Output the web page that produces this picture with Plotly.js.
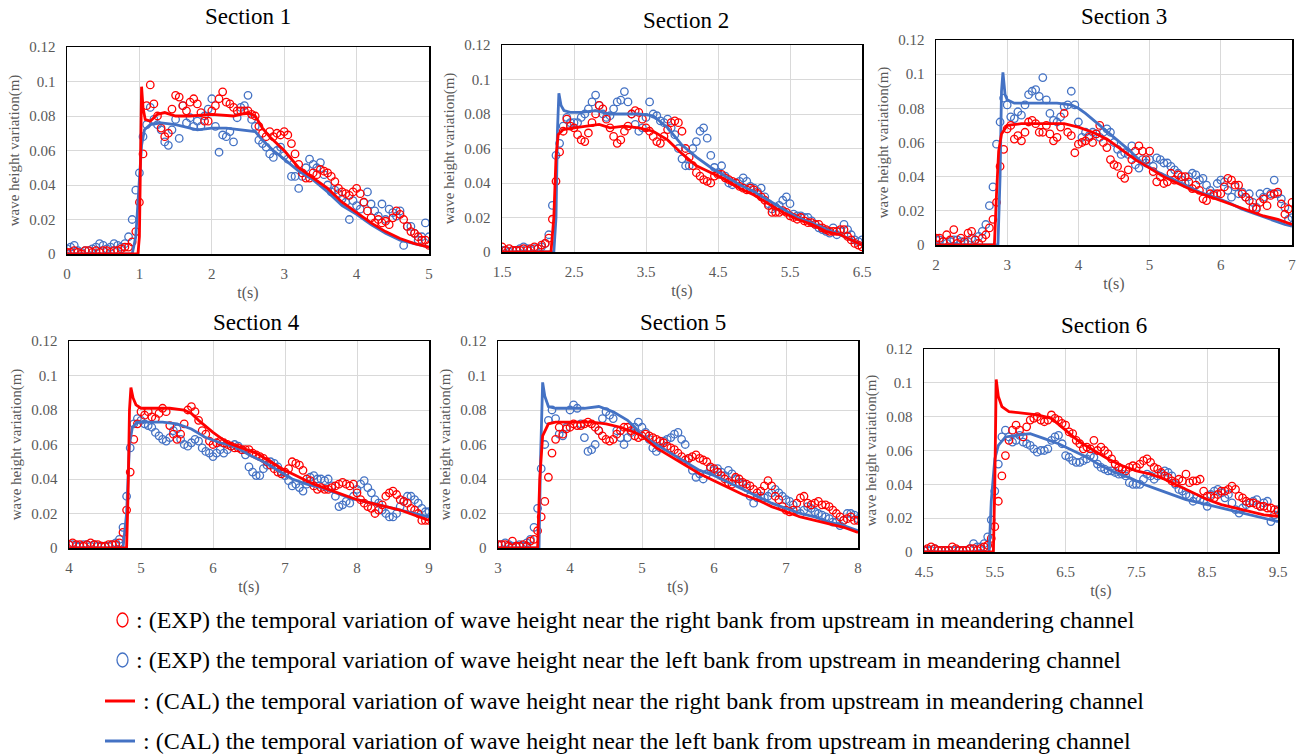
<!DOCTYPE html>
<html><head><meta charset="utf-8">
<script src="https://cdn.plot.ly/plotly-3.0.1.min.js"></script>
<style>html,body{margin:0;padding:0;background:#fff}#chart{width:1311px;height:755px}</style>
</head><body><div id="chart"></div>
<script>
// ---- Data (wave height variation in m, EXP sampled every 0.05 s from section start) ----
const sectionNames = ["Section 1","Section 2","Section 3","Section 4","Section 5","Section 6"];
const sectionStart = [0, 1.5, 2, 4, 3, 4.5];
const expStep = 0.05;

const s1ExpRight = [0.001,0.001,0.002,0.001,0.000,0.002,0.002,0.001,0.002,0.001,0.002,0.002,0.001,0.002,0.002,0.003,
0.004,0.004,0.007,0.013,0.030,0.058,0.086,0.098,0.087,0.080,0.073,0.068,0.070,0.084,
0.092,0.091,0.086,0.083,0.088,0.090,0.087,0.082,0.077,0.077,
0.083,0.086,0.090,0.094,0.088,0.087,0.085,0.083,0.083,0.083,
0.083,0.081,0.080,0.074,0.070,0.068,0.071,0.068,0.070,0.069,
0.071,0.069,0.064,0.058,0.052,0.047,0.044,0.044,0.047,0.046,
0.049,0.048,0.047,0.045,0.042,0.038,0.036,0.035,0.034,0.036,
0.038,0.035,0.030,0.025,0.021,0.018,0.020,0.018,0.019,0.017,
0.021,0.025,0.023,0.020,0.016,0.013,0.012,0.010,0.008,0.008,0.005];
const s1ExpLeft = [0.003,0.004,0.005,0.002,0.001,0.002,0.002,0.003,0.004,0.006,
0.005,0.003,0.004,0.006,0.005,0.004,0.006,0.010,0.020,0.037,
0.047,0.068,0.075,0.085,0.078,0.075,0.072,0.065,0.063,0.072,
0.078,0.067,0.086,0.076,0.079,0.074,0.077,0.074,0.080,0.084,
0.090,0.074,0.059,0.069,0.068,0.071,0.065,0.079,0.085,0.086,
0.092,0.078,0.074,0.066,0.064,0.062,0.058,0.056,0.060,0.062,
0.057,0.055,0.045,0.045,0.038,0.045,0.050,0.055,0.052,0.050,
0.053,0.046,0.040,0.036,0.037,0.035,0.032,0.030,0.020,0.031,
0.028,0.026,0.030,0.036,0.029,0.025,0.022,0.029,0.020,0.026,
0.024,0.022,0.025,0.005,0.016,0.016,0.012,0.008,0.010,0.018,0.010];
const s1CalRightT = [0,0.98,1.0,1.02,1.03,1.05,1.08,1.15,1.25,1.35,1.5,1.7,2.0,2.3,2.5,2.6,2.7,2.8,3.0,3.2,3.4,3.6,3.8,4.0,4.2,4.4,4.6,4.8,5.0];
const s1CalRightV = [0,0,0.01,0.06,0.097,0.085,0.078,0.077,0.081,0.082,0.080,0.080,0.081,0.080,0.082,0.080,0.073,0.068,0.060,0.050,0.044,0.038,0.030,0.024,0.018,0.013,0.009,0.006,0.004];
const s1CalLeftT = [0,0.9,0.95,1.0,1.03,1.07,1.15,1.3,1.5,1.8,2.0,2.2,2.4,2.6,2.7,2.85,3.0,3.2,3.4,3.6,3.8,4.0,4.2,4.4,4.6,4.8,5.0];
const s1CalLeftV = [0,0,0.01,0.04,0.063,0.072,0.075,0.076,0.075,0.072,0.073,0.073,0.072,0.071,0.066,0.060,0.055,0.048,0.043,0.036,0.028,0.023,0.017,0.012,0.008,0.006,0.004];

const s2ExpRight = [0.003,0.001,0.002,0.001,0.001,0.001,0.002,0.001,0.002,0.003,
0.002,0.004,0.005,0.008,0.019,0.041,0.058,0.070,0.077,0.073,
0.072,0.068,0.065,0.064,0.069,0.075,0.080,0.085,0.083,0.077,
0.072,0.067,0.063,0.065,0.070,0.073,0.080,0.082,0.081,0.077,
0.072,0.070,0.067,0.064,0.063,0.067,0.071,0.075,0.076,0.075,
0.070,0.060,0.055,0.050,0.046,0.044,0.042,0.041,0.040,0.044,
0.045,0.045,0.043,0.042,0.041,0.040,0.038,0.037,0.036,0.037,
0.036,0.034,0.032,0.030,0.027,0.023,0.023,0.023,0.024,0.023,
0.021,0.020,0.019,0.020,0.018,0.017,0.017,0.016,0.016,0.014,
0.013,0.012,0.012,0.012,0.013,0.013,0.009,0.007,0.005,0.004,0.003];
const s2ExpLeft = [0.001,0.001,0.000,0.001,0.001,0.002,0.003,0.002,0.001,0.002,
0.002,0.003,0.005,0.010,0.027,0.056,0.063,0.073,0.078,0.075,
0.075,0.075,0.078,0.080,0.083,0.087,0.091,0.085,0.080,0.078,
0.079,0.083,0.087,0.088,0.093,0.087,0.080,0.074,0.070,0.072,
0.078,0.087,0.080,0.079,0.076,0.075,0.077,0.072,0.068,0.060,
0.054,0.050,0.050,0.060,0.064,0.070,0.072,0.066,0.056,0.049,
0.046,0.050,0.044,0.040,0.039,0.040,0.041,0.043,0.041,0.038,
0.037,0.035,0.037,0.032,0.028,0.025,0.026,0.027,0.030,0.032,
0.028,0.022,0.021,0.021,0.020,0.020,0.018,0.016,0.014,0.013,
0.012,0.011,0.014,0.010,0.012,0.016,0.013,0.010,0.007,0.006,0.007];
const s2CalRightT = [1.5,2.18,2.22,2.25,2.28,2.35,2.5,2.7,2.85,3.0,3.2,3.4,3.6,3.8,4.0,4.2,4.4,4.6,4.8,5.0,5.2,5.4,5.6,5.8,6.0,6.2,6.4,6.5];
const s2CalRightV = [0,0,0.02,0.055,0.068,0.071,0.072,0.073,0.074,0.072,0.073,0.072,0.070,0.065,0.057,0.050,0.046,0.042,0.037,0.033,0.028,0.023,0.019,0.016,0.012,0.010,0.006,0.004];
const s2CalLeftT = [1.5,2.22,2.25,2.27,2.29,2.32,2.36,2.45,2.6,2.8,3.0,3.2,3.4,3.6,3.8,4.0,4.2,4.4,4.6,4.8,5.0,5.2,5.4,5.6,5.8,6.0,6.2,6.4,6.5];
const s2CalLeftV = [0,0,0.02,0.07,0.092,0.085,0.082,0.081,0.081,0.082,0.080,0.080,0.080,0.079,0.072,0.062,0.055,0.049,0.044,0.039,0.035,0.030,0.025,0.020,0.017,0.013,0.010,0.006,0.004];

const s3ExpRight = [0.004,0.004,0.002,0.006,0.003,0.009,0.001,0.004,0.002,0.007,
0.008,0.003,0.001,0.004,0.006,0.010,0.015,0.025,0.046,0.056,
0.068,0.070,0.062,0.064,0.061,0.066,0.072,0.073,0.071,0.066,
0.066,0.070,0.065,0.061,0.063,0.069,0.077,0.066,0.064,0.054,
0.059,0.060,0.061,0.063,0.060,0.065,0.070,0.060,0.057,0.050,
0.047,0.046,0.041,0.039,0.044,0.050,0.055,0.058,0.055,0.050,
0.055,0.043,0.037,0.040,0.036,0.037,0.042,0.038,0.041,0.040,
0.040,0.037,0.033,0.035,0.032,0.027,0.026,0.030,0.029,0.030,
0.030,0.034,0.039,0.038,0.035,0.035,0.030,0.028,0.026,0.022,
0.021,0.025,0.027,0.023,0.029,0.030,0.031,0.024,0.018,0.021,0.025];
const s3ExpLeft = [0.003,0.003,0.002,0.001,0.002,0.003,0.003,0.002,0.001,0.002,
0.004,0.003,0.005,0.008,0.012,0.023,0.034,0.059,0.072,0.086,
0.082,0.075,0.074,0.078,0.076,0.082,0.088,0.090,0.091,0.087,
0.098,0.085,0.077,0.073,0.072,0.075,0.081,0.082,0.090,0.082,
0.072,0.063,0.066,0.064,0.066,0.065,0.063,0.066,0.068,0.066,
0.060,0.056,0.053,0.054,0.053,0.058,0.047,0.045,0.050,0.048,
0.050,0.046,0.051,0.050,0.048,0.048,0.046,0.044,0.042,0.038,
0.036,0.040,0.042,0.041,0.038,0.039,0.035,0.032,0.030,0.036,
0.038,0.037,0.032,0.028,0.034,0.030,0.031,0.028,0.030,0.025,
0.022,0.030,0.028,0.031,0.030,0.038,0.030,0.027,0.022,0.015,0.016];
const s3CalRightT = [2,2.82,2.85,2.88,2.92,3.0,3.2,3.5,3.8,4.0,4.2,4.4,4.6,4.8,5.0,5.2,5.4,5.6,5.8,6.0,6.2,6.4,6.6,6.8,7.0];
const s3CalRightV = [0,0,0.03,0.055,0.065,0.070,0.071,0.071,0.071,0.069,0.066,0.062,0.056,0.050,0.045,0.040,0.036,0.032,0.029,0.026,0.023,0.020,0.017,0.015,0.012];
const s3CalLeftT = [2,2.87,2.9,2.92,2.94,2.97,3.0,3.1,3.3,3.5,3.7,3.9,4.0,4.1,4.3,4.5,4.7,4.9,5.1,5.3,5.5,5.7,5.9,6.1,6.3,6.5,6.7,6.9,7.0];
const s3CalLeftV = [0,0,0.04,0.09,0.101,0.088,0.085,0.083,0.083,0.083,0.083,0.082,0.080,0.077,0.070,0.063,0.056,0.048,0.043,0.039,0.035,0.031,0.028,0.025,0.021,0.018,0.015,0.012,0.011];

const s4ExpRight = [0.002,0.003,0.002,0.002,0.001,0.002,0.003,0.002,0.002,0.001,
0.001,0.002,0.002,0.002,0.003,0.009,0.022,0.044,0.063,0.072,
0.079,0.077,0.079,0.076,0.075,0.078,0.081,0.079,0.071,0.066,
0.063,0.066,0.072,0.080,0.082,0.079,0.074,0.068,0.066,0.062,
0.060,0.061,0.062,0.061,0.060,0.059,0.058,0.058,0.057,0.057,
0.057,0.055,0.054,0.053,0.052,0.050,0.048,0.046,0.044,0.043,
0.044,0.046,0.050,0.049,0.048,0.045,0.040,0.039,0.036,0.034,
0.035,0.034,0.034,0.035,0.036,0.037,0.038,0.037,0.036,0.037,
0.032,0.028,0.026,0.024,0.023,0.020,0.022,0.025,0.030,0.032,
0.033,0.031,0.028,0.027,0.026,0.023,0.022,0.020,0.016,0.016,0.016];
const s4ExpLeft = [0.002,0.002,0.001,0.001,0.002,0.002,0.001,0.002,0.001,0.001,
0.001,0.001,0.002,0.003,0.005,0.012,0.030,0.058,0.072,0.075,
0.074,0.072,0.071,0.070,0.067,0.065,0.063,0.062,0.064,0.068,
0.069,0.063,0.060,0.059,0.061,0.063,0.062,0.058,0.056,0.055,
0.053,0.055,0.057,0.055,0.057,0.059,0.060,0.059,0.057,0.054,
0.047,0.044,0.042,0.042,0.046,0.048,0.050,0.049,0.047,0.044,
0.042,0.039,0.036,0.037,0.035,0.033,0.037,0.041,0.042,0.040,
0.040,0.039,0.040,0.036,0.030,0.024,0.025,0.027,0.026,0.030,
0.034,0.037,0.039,0.035,0.032,0.028,0.026,0.022,0.020,0.018,
0.018,0.020,0.024,0.027,0.030,0.030,0.028,0.026,0.023,0.021,0.021];
const s4CalRightT = [4,4.8,4.82,4.84,4.86,4.89,4.93,5.0,5.2,5.4,5.6,5.7,5.8,6.0,6.2,6.4,6.6,6.8,7.0,7.2,7.4,7.6,7.8,8.0,8.2,8.4,8.6,8.8,9.0];
const s4CalRightV = [0,0,0.03,0.08,0.093,0.087,0.083,0.081,0.081,0.081,0.080,0.078,0.074,0.067,0.061,0.058,0.055,0.050,0.045,0.041,0.037,0.034,0.031,0.028,0.026,0.024,0.022,0.019,0.016];
const s4CalLeftT = [4,4.75,4.8,4.84,4.88,4.95,5.1,5.3,5.5,5.7,5.9,6.1,6.3,6.5,6.7,6.9,7.1,7.3,7.5,7.7,7.9,8.1,8.3,8.5,8.7,8.9,9.0];
const s4CalLeftV = [0,0,0.02,0.06,0.070,0.073,0.073,0.073,0.072,0.069,0.064,0.061,0.059,0.054,0.050,0.045,0.040,0.037,0.035,0.032,0.029,0.027,0.025,0.023,0.021,0.019,0.018];

const s5ExpRight = [0.002,0.002,0.002,0.001,0.004,0.001,0.001,0.002,0.001,0.004,
0.005,0.010,0.018,0.027,0.041,0.055,0.063,0.070,0.066,0.069,
0.070,0.072,0.071,0.071,0.072,0.073,0.072,0.070,0.068,0.065,
0.063,0.062,0.063,0.066,0.068,0.070,0.070,0.068,0.065,0.064,
0.065,0.066,0.065,0.064,0.063,0.062,0.061,0.059,0.058,0.057,
0.055,0.053,0.051,0.052,0.053,0.054,0.052,0.051,0.050,0.047,
0.046,0.044,0.042,0.040,0.038,0.037,0.041,0.040,0.038,0.037,
0.036,0.034,0.032,0.033,0.036,0.039,0.036,0.030,0.028,0.024,
0.022,0.021,0.022,0.026,0.029,0.030,0.026,0.025,0.026,0.027,
0.025,0.025,0.024,0.022,0.020,0.018,0.016,0.017,0.018,0.016,0.016];
const s5ExpLeft = [0.002,0.002,0.003,0.002,0.001,0.001,0.002,0.001,0.003,0.005,
0.012,0.023,0.046,0.060,0.074,0.080,0.075,0.066,0.065,0.070,
0.080,0.083,0.081,0.072,0.064,0.056,0.057,0.060,0.068,0.075,
0.079,0.077,0.075,0.068,0.064,0.060,0.064,0.067,0.070,0.073,
0.070,0.067,0.063,0.058,0.056,0.058,0.062,0.063,0.064,0.066,
0.067,0.063,0.060,0.052,0.045,0.041,0.043,0.040,0.043,0.046,
0.045,0.046,0.044,0.042,0.045,0.043,0.040,0.038,0.037,0.035,
0.030,0.026,0.029,0.030,0.029,0.030,0.032,0.034,0.032,0.030,
0.028,0.027,0.025,0.022,0.020,0.022,0.024,0.023,0.021,0.020,
0.019,0.018,0.017,0.015,0.015,0.013,0.016,0.020,0.020,0.019,0.017];
const s5CalRightT = [3,3.55,3.58,3.62,3.7,3.8,4.0,4.3,4.5,4.7,4.9,5.0,5.2,5.4,5.6,5.8,6.0,6.2,6.4,6.6,6.8,7.0,7.2,7.4,7.6,7.8,8.0];
const s5CalRightV = [0,0,0.04,0.065,0.072,0.073,0.073,0.073,0.072,0.070,0.067,0.065,0.058,0.053,0.048,0.043,0.039,0.035,0.031,0.028,0.024,0.021,0.018,0.016,0.014,0.012,0.009];
const s5CalLeftT = [3,3.57,3.59,3.61,3.62,3.65,3.7,3.8,4.0,4.2,4.4,4.6,4.8,4.9,5.0,5.2,5.4,5.6,5.8,6.0,6.2,6.4,6.6,6.8,7.0,7.2,7.4,7.6,7.8,8.0];
const s5CalLeftV = [0,0,0.05,0.09,0.096,0.088,0.082,0.081,0.081,0.081,0.082,0.079,0.074,0.070,0.065,0.060,0.055,0.050,0.045,0.042,0.038,0.034,0.030,0.026,0.023,0.020,0.018,0.015,0.013,0.010];

const s6ExpRight = [0.001,0.002,0.003,0.002,0.001,0.001,0.001,0.001,0.003,0.002,
0.001,0.001,0.001,0.002,0.002,0.001,0.002,0.003,0.004,0.008,
0.015,0.030,0.045,0.057,0.066,0.072,0.075,0.072,0.068,0.074,
0.078,0.079,0.080,0.078,0.077,0.078,0.081,0.079,0.078,0.076,
0.075,0.071,0.070,0.066,0.064,0.061,0.062,0.061,0.066,0.060,
0.062,0.060,0.058,0.055,0.052,0.050,0.049,0.048,0.050,0.051,
0.050,0.052,0.054,0.055,0.053,0.050,0.049,0.047,0.045,0.044,
0.042,0.041,0.043,0.042,0.046,0.041,0.042,0.042,0.043,0.036,
0.033,0.033,0.032,0.034,0.036,0.036,0.037,0.039,0.037,0.033,
0.032,0.030,0.029,0.029,0.028,0.027,0.027,0.026,0.026,0.025,0.024];
const s6ExpLeft = [0.001,0.001,0.001,0.002,0.001,0.001,0.001,0.001,0.001,0.001,
0.001,0.001,0.001,0.002,0.005,0.003,0.003,0.005,0.009,0.019,
0.036,0.052,0.068,0.072,0.068,0.065,0.066,0.069,0.065,0.064,
0.063,0.061,0.059,0.060,0.060,0.061,0.066,0.068,0.069,0.064,
0.057,0.056,0.054,0.053,0.053,0.054,0.055,0.057,0.056,0.052,
0.050,0.049,0.048,0.048,0.047,0.046,0.046,0.045,0.041,0.040,
0.040,0.040,0.043,0.046,0.045,0.043,0.045,0.046,0.048,0.047,
0.045,0.040,0.037,0.036,0.034,0.033,0.030,0.032,0.031,0.030,
0.027,0.034,0.036,0.037,0.035,0.032,0.034,0.029,0.025,0.023,
0.026,0.028,0.029,0.030,0.031,0.027,0.029,0.030,0.018,0.022,0.025];
const s6CalRightT = [4.5,5.48,5.5,5.51,5.52,5.55,5.6,5.7,5.9,6.1,6.3,6.5,6.7,6.9,7.1,7.3,7.5,7.7,7.9,8.1,8.3,8.5,8.7,8.9,9.1,9.3,9.5];
const s6CalRightV = [0,0,0.04,0.09,0.102,0.092,0.086,0.083,0.082,0.081,0.079,0.072,0.065,0.060,0.055,0.051,0.048,0.046,0.043,0.039,0.035,0.031,0.028,0.026,0.024,0.022,0.021];
const s6CalLeftT = [4.5,5.42,5.45,5.5,5.55,5.65,5.8,6.0,6.2,6.4,6.6,6.8,7.0,7.2,7.4,7.6,7.8,8.0,8.2,8.4,8.6,8.8,9.0,9.2,9.4,9.5];
const s6CalLeftV = [0,0,0.03,0.055,0.063,0.068,0.069,0.070,0.067,0.064,0.060,0.056,0.051,0.047,0.044,0.040,0.037,0.034,0.031,0.029,0.027,0.025,0.023,0.021,0.019,0.018];

const yTickVals = [0,0.02,0.04,0.06,0.08,0.1,0.12];
const yTickText = ["0","0.02","0.04","0.06","0.08","0.1","0.12"];
const legendTexts = [
  ": (EXP) the temporal variation of wave height near the right bank from upstream in meandering channel",
  ": (EXP) the temporal variation of wave height near the left bank from upstream in meandering channel",
  ": (CAL) the temporal variation of wave height near the right bank from upstream in meandering channel",
  ": (CAL) the temporal variation of wave height near the left bank from upstream in meandering channel"
];

const expRight = [s1ExpRight,s2ExpRight,s3ExpRight,s4ExpRight,s5ExpRight,s6ExpRight];
const expLeft = [s1ExpLeft,s2ExpLeft,s3ExpLeft,s4ExpLeft,s5ExpLeft,s6ExpLeft];
const calRight = [[s1CalRightT,s1CalRightV],[s2CalRightT,s2CalRightV],[s3CalRightT,s3CalRightV],[s4CalRightT,s4CalRightV],[s5CalRightT,s5CalRightV],[s6CalRightT,s6CalRightV]];
const calLeft = [[s1CalLeftT,s1CalLeftV],[s2CalLeftT,s2CalLeftV],[s3CalLeftT,s3CalLeftV],[s4CalLeftT,s4CalLeftV],[s5CalLeftT,s5CalLeftV],[s6CalLeftT,s6CalLeftV]];

// ---- Layout geometry (pixels) ----
const W = 1311, H = 755;
const boxes = [ // [left, right, top, bottom]
  [67,429,47,254],[502,862,45,252],[936,1292,40,245],
  [69,429,341,548],[498,858,341,548],[924,1278,349,552]
];
const titlePos = [[248,17],[686,20],[1124,17],[256,322],[683,322],[1104,325]];
const RED = "#FF0000", BLUE = "#4472C4";
const serif = "Liberation Serif";

const traces = [];
const layout = {
  width: W, height: H, showlegend: false,
  paper_bgcolor: "#fff", plot_bgcolor: "#fff",
  margin: {l:0,r:0,t:0,b:0, autoexpand:false},
  font: {family: serif, color: "#595959"},
  annotations: [], shapes: []
};

for (let i = 0; i < 6; i++) {
  const n = i + 1;
  const xa = "x" + (n === 1 ? "" : n), ya = "y" + (n === 1 ? "" : n);
  const xt = expRight[i].map((_, k) => +(sectionStart[i] + k * expStep).toFixed(3));
  const xtL = expLeft[i].map((_, k) => +(sectionStart[i] + k * expStep).toFixed(3));
  traces.push({x: xtL, y: expLeft[i], xaxis: xa, yaxis: ya, mode: "markers", type: "scatter",
    marker: {symbol: "circle-open", size: 7.5, color: BLUE, line: {width: 1.3, color: BLUE}}, hoverinfo: "skip"});
  traces.push({x: xt, y: expRight[i], xaxis: xa, yaxis: ya, mode: "markers", type: "scatter",
    marker: {symbol: "circle-open", size: 7.5, color: RED, line: {width: 1.3, color: RED}}, hoverinfo: "skip"});
  traces.push({x: calLeft[i][0], y: calLeft[i][1], xaxis: xa, yaxis: ya, mode: "lines", type: "scatter",
    line: {color: BLUE, width: 2.8}, hoverinfo: "skip"});
  traces.push({x: calRight[i][0], y: calRight[i][1], xaxis: xa, yaxis: ya, mode: "lines", type: "scatter",
    line: {color: RED, width: 2.8}, hoverinfo: "skip"});

  const b = boxes[i];
  const axKey = "xaxis" + (n === 1 ? "" : n), ayKey = "yaxis" + (n === 1 ? "" : n);
  layout[axKey] = {
    domain: [b[0] / W, b[1] / W], anchor: ya,
    range: [sectionStart[i], sectionStart[i] + 5], tick0: sectionStart[i], dtick: 1,
    showgrid: true, gridcolor: "#d9d9d9", gridwidth: 1, zeroline: false,
    showline: true, mirror: true, linecolor: "#000", linewidth: 1.5, ticks: "",
    ticklabelstandoff: 5,
    tickfont: {family: serif, size: 15, color: "#595959"},
    title: {text: "t(s)", font: {family: serif, size: 16, color: "#595959"}, standoff: 6}
  };
  layout[ayKey] = {
    domain: [1 - b[3] / H, 1 - b[2] / H], anchor: xa,
    range: [0, 0.12], tickvals: yTickVals, ticktext: yTickText,
    showgrid: true, gridcolor: "#d9d9d9", gridwidth: 1, zeroline: false,
    showline: true, mirror: true, linecolor: "#000", linewidth: 1.5, ticks: "",
    ticklabelstandoff: 7,
    tickfont: {family: serif, size: 15, color: "#595959"},
    title: {text: "wave height variation(m)", font: {family: serif, size: 15, color: "#595959"}, standoff: 6}
  };
  layout.annotations.push({
    text: sectionNames[i], xref: "paper", yref: "paper",
    x: titlePos[i][0] / W, y: 1 - titlePos[i][1] / H, xanchor: "center", yanchor: "middle",
    showarrow: false, font: {family: serif, size: 23, color: "#000"}
  });
}

// ---- Legend (drawn as shapes + text) ----
const legendY = [620, 660, 701, 741];
const legendColors = [RED, BLUE, RED, BLUE];
for (let j = 0; j < 4; j++) {
  const yc = legendY[j];
  if (j < 2) {
    layout.shapes.push({type: "circle", xref: "paper", yref: "paper",
      x0: 117 / W, x1: 128 / W, y0: 1 - (yc + 7) / H, y1: 1 - (yc - 7) / H,
      line: {color: legendColors[j], width: 1.3}});
  } else {
    layout.shapes.push({type: "line", xref: "paper", yref: "paper",
      x0: 105 / W, x1: 135 / W, y0: 1 - yc / H, y1: 1 - yc / H,
      line: {color: legendColors[j], width: 3}});
  }
  layout.annotations.push({
    text: legendTexts[j], xref: "paper", yref: "paper",
    x: (j < 2 ? 134 : 141) / W, y: 1 - yc / H, xanchor: "left", yanchor: "middle",
    showarrow: false, font: {family: serif, size: 24, color: "#000"}
  });
}

Plotly.newPlot("chart", traces, layout, {staticPlot: true, displayModeBar: false});
</script></body></html>
